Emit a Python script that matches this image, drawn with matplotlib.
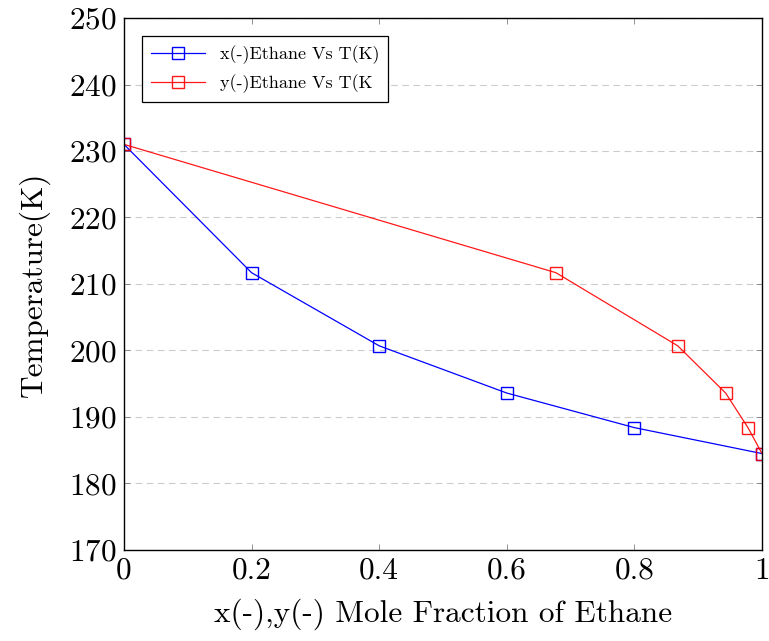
import matplotlib
matplotlib.use("Agg")
import matplotlib.pyplot as plt

plt.rcParams["font.family"] = "serif"
plt.rcParams["font.serif"] = ["cmr10", "DejaVu Serif"]
plt.rcParams["mathtext.fontset"] = "cm"
plt.rcParams["axes.formatter.use_mathtext"] = True

# data
temp = [231.0, 211.7, 200.7, 193.6, 188.4, 184.5]
x_liq = [0.0, 0.2, 0.4, 0.6, 0.8, 1.0]
y_vap = [0.0, 0.677, 0.868, 0.943, 0.978, 1.0]

xticks = [0, 0.2, 0.4, 0.6, 0.8, 1]
xtick_labels = ["0", "0.2", "0.4", "0.6", "0.8", "1"]
yticks = [170, 180, 190, 200, 210, 220, 230, 240, 250]

fig = plt.figure(figsize=(7.69, 6.41), dpi=100)
ax = fig.add_axes([0.1612, 0.1420, 0.8297, 0.8299])

ax.plot(x_liq, temp, color="blue", lw=0.9, marker="s", ms=8,
        mfc="none", mec="blue", mew=1.0, label="x(-)Ethane Vs T(K)")
ax.plot(y_vap, temp, color="red", lw=0.9, marker="s", ms=8,
        mfc="none", mec="red", mew=1.0, alpha=0.9, label="y(-)Ethane Vs T(K")

ax.set_xlim(0, 1)
ax.set_ylim(170, 250)
ax.set_xticks(xticks)
ax.set_xticklabels(xtick_labels)
ax.set_yticks(yticks)
ax.tick_params(direction="in", length=4, width=0.6, color="0.5",
               top=True, right=True, labelsize=22.5, pad=5)
ax.yaxis.grid(True, ls=(0, (6, 4)), color="0.8", lw=0.8)
for s in ax.spines.values():
    s.set_linewidth(1.0)

ax.set_xlabel("x(-),y(-) Mole Fraction of Ethane", fontsize=22.5, labelpad=10)
ax.set_ylabel("Temperature(K)", fontsize=22.5, labelpad=14)

leg = ax.legend(loc="upper left", fontsize=13, fancybox=False,
                edgecolor="black", framealpha=1, borderaxespad=1.0,
                handlelength=3, labelspacing=0.6, borderpad=0.5)
leg.get_frame().set_linewidth(0.9)

fig.savefig("out.png", dpi=100)
